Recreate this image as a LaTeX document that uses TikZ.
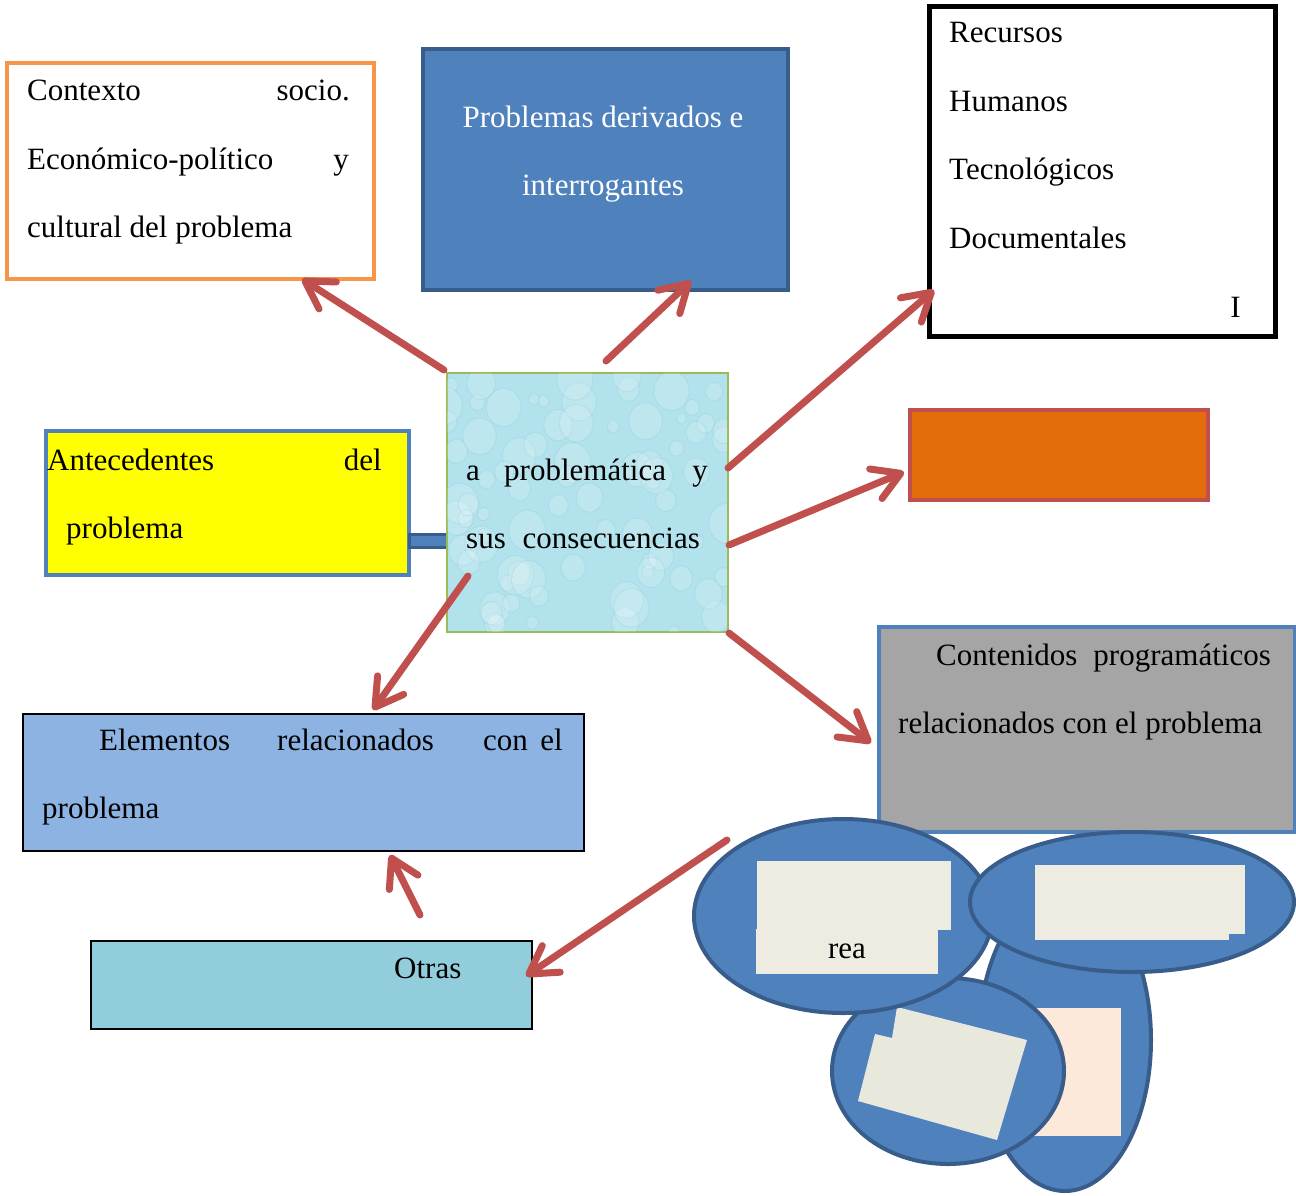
\documentclass[tikz,border=0pt]{standalone}
\usepackage{fontspec}
\setmainfont{Liberation Serif}
\usetikzlibrary{arrows.meta,calc,shapes.geometric}
\definecolor{ctxorange}{HTML}{F79646}
\definecolor{blueF}{HTML}{4F81BD}
\definecolor{blueD}{HTML}{385D8A}
\definecolor{orangeF}{HTML}{E46C0A}
\definecolor{redB}{HTML}{C0504D}
\definecolor{grayF}{HTML}{A5A5A5}
\definecolor{yel}{HTML}{FFFF00}
\definecolor{water}{HTML}{B2E2EC}
\definecolor{waterD}{HTML}{86CADB}
\definecolor{greenB}{HTML}{9BBB59}
\definecolor{elemF}{HTML}{8DB3E2}
\definecolor{otrasF}{HTML}{92CDDC}
\definecolor{cream}{HTML}{EEECE1}
\definecolor{creamB}{HTML}{E8E8DD}
\definecolor{peach}{HTML}{FDE9D9}
\begin{document}
\begin{tikzpicture}[x=1pt,y=-1pt,
  font=\fontsize{31}{37}\selectfont,
  box/.style={draw, rectangle, inner sep=0pt, anchor=north west},
  ell/.style={draw=blueD, fill=blueF, ellipse, line width=4pt, inner sep=0pt},
  tl/.style={inner sep=0pt, anchor=base west},
  tr/.style={inner sep=0pt, anchor=base east},
  tc/.style={inner sep=0pt, anchor=base},
  conn/.style={draw=redB, line width=7pt, line cap=round,
    -{Straight Barb[length=27pt,width=32pt,round]}}]
\useasboundingbox (0,0) rectangle (1296,1195);

% boxes
\node[box, draw=ctxorange, fill=white, line width=4pt, minimum width=367pt, minimum height=216pt] (ctx) at (5,61) {};
\node[box, draw=blueD, fill=blueF, line width=4pt, minimum width=365pt, minimum height=241pt] (prob) at (421,47) {};
\node[box, draw=black, fill=white, line width=5pt, minimum width=346pt, minimum height=330pt] (rec) at (927,4) {};
\node[box, draw=redB, fill=orangeF, line width=4pt, minimum width=298pt, minimum height=90pt] (ora) at (908,408) {};
\node[box, draw=blueF, fill=grayF, line width=4pt, minimum width=416pt, minimum height=205pt] (cont) at (877,625) {};
\node[box, draw=blueF, fill=yel, line width=4pt, minimum width=363pt, minimum height=144pt] (ant) at (44,429) {};
\node[box, draw=blueD, fill=blueF, line width=3pt, minimum width=38pt, minimum height=13pt] (bar) at (408,533) {};
\node[box, draw=greenB, fill=water, line width=2pt, minimum width=281pt, minimum height=259pt] (ctr) at (446,372) {};
\begin{scope}
  \clip (447,373) rectangle (727,631);
  \pgfmathsetseed{7}
  \foreach \i in {1,...,80}{
    \pgfmathsetmacro{\px}{446+282*rnd}
    \pgfmathsetmacro{\py}{372+260*rnd}
    \pgfmathsetmacro{\pr}{5+14*rnd}
    \fill[white, opacity=0.15] (\px,\py) ellipse [x radius=\pr, y radius=1.1*\pr];
    \draw[waterD, opacity=0.25, line width=1pt] (\px,\py) ellipse [x radius=\pr, y radius=1.1*\pr];
  }
\end{scope}
\node[box, draw=black, fill=elemF, line width=1.5pt, minimum width=561pt, minimum height=137pt] (elem) at (22,713) {};
\node[box, draw=black, fill=otrasF, line width=1.5pt, minimum width=441pt, minimum height=88pt] (otras) at (90,940) {};

% ellipse cluster
\node[ell, minimum width=172pt, minimum height=302pt] (e3) at (1065,1040) {};
\fill[peach] (1030,1008) rectangle (1121,1136);
\node[ell, minimum width=232pt, minimum height=186pt] (e4) at (948,1071) {};
\fill[creamB] (897,1007) -- (1027,1040) -- (997,1140) -- (858,1101) -- (875,1034) -- (892,1038) -- cycle;
\node[ell, minimum width=298pt, minimum height=194pt] (e1) at (843,916) {};
\fill[cream] (757,861) rectangle (951,930);
\fill[cream] (756,929) rectangle (938,974);
\node[ell, minimum width=324pt, minimum height=140pt] (e2) at (1132,902) {};
\fill[cream] (1035,865) rectangle (1229,940);
\fill[cream] (1228,865) rectangle (1245,934);

% texts
\node[tl] (c1) at (27,100) {Contexto};
\node[tr] (c2) at (350,100) {socio.};
\node[tl] (c3) at (27,169) {Económico-político};
\node[tr] (c4) at (349,169) {y};
\node[tl] (c5) at (27,237) {cultural del problema};

\node[tc, text=white] (p1) at (603,127) {Problemas derivados e};
\node[tc, text=white] (p2) at (603,195) {interrogantes};

\node[tl] (r1) at (949,42) {Recursos};
\node[tl] (r2) at (949,111) {Humanos};
\node[tl] (r3) at (949,179) {Tecnológicos};
\node[tl] (r4) at (949,248) {Documentales};
\node[tr] (r5) at (1241,317) {I};

\node[tl] (a1) at (47,470) {Antecedentes};
\node[tr] (a2) at (382,470) {del};
\node[tl] (a3) at (66,538) {problema};

\node[tl] (m1) at (466,480) {a};
\node[tl] (m2) at (504,480) {problemática};
\node[tr] (m3) at (708,480) {y};
\node[tl] (m4) at (466,548) {sus};
\node[tr] (m5) at (700,548) {consecuencias};

\node[tl] (el1) at (99,750) {Elementos};
\node[tl] (el2) at (277,750) {relacionados};
\node[tl] (el3) at (483,750) {con};
\node[tr] (el4) at (563,750) {el};
\node[tl] (el5) at (42,818) {problema};

\node[tl] (g1) at (936,665) {Contenidos};
\node[tr] (g2) at (1271,665) {programáticos};
\node[tl] (g3) at (898,733) {relacionados con el problema};

\node[tl] (o1) at (394,978) {Otras};
\node[tc] (rea) at (847,958) {rea};

% arrow end points
\coordinate (s1) at (444,370);
\coordinate (t1) at (302,279);
\coordinate (s2) at (606,361);
\coordinate (t2) at (691,281);
\coordinate (s3) at (728,468);
\coordinate (t3) at (934,290);
\coordinate (s4) at (729,545);
\coordinate (t4) at (904,472);
\coordinate (s5) at (729,633);
\coordinate (t5) at (871,743);
\coordinate (s6) at (468,576);
\coordinate (t6) at (373,710);
\coordinate (s7) at (420,915);
\coordinate (t7) at (390,855);
\coordinate (s8) at (727,840);
\coordinate (t8) at (526,976);

% connectors
\draw[conn] (s1) -- (t1);
\draw[conn] (s2) -- (t2);
\draw[conn] (s3) -- (t3);
\draw[conn] (s4) -- (t4);
\draw[conn] (s5) -- (t5);
\draw[conn] (s6) -- (t6);
\draw[conn] (s7) -- (t7);
\draw[conn] (s8) -- (t8);
\end{tikzpicture}
\end{document}
